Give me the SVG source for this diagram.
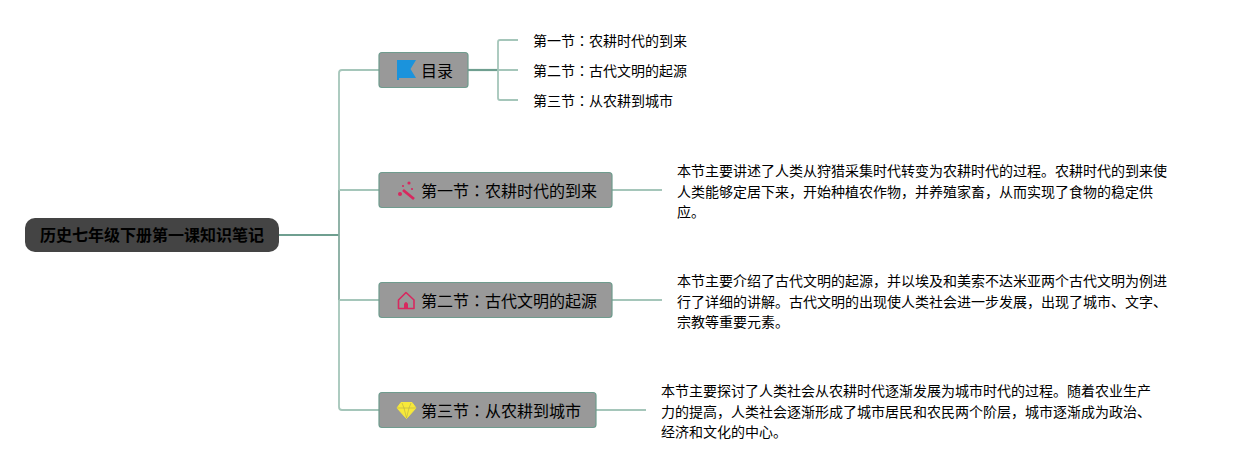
<svg xmlns="http://www.w3.org/2000/svg" width="1237" height="470" viewBox="0 0 1237 470">
<style>
text{font-family:"Liberation Sans","Noto Sans CJK SC",sans-serif;fill:#000}
.root{font-size:16px;font-weight:bold}
.n{font-size:16px}
.s{font-size:14px}
.k{font-family:"Liberation Sans","Noto Sans CJK TC",sans-serif}
.box{fill:#999;stroke:#6f9c8e;stroke-width:1.2}
.c{fill:none;stroke:#a5c6ba;stroke-width:1.8}
.d{fill:none;stroke:#6f9f90;stroke-width:2.2}
.t{fill:none;stroke:#85ab9f;stroke-width:1.8}
.r{fill:#d8285f}
</style>
<rect width="1237" height="470" fill="#fff"/>
<g id="connectors">
<path class="d" d="M279 235H339"/>
<path class="c" d="M379 70H342Q339 70 339 73V190"/>
<path class="t" d="M339 190V300"/>
<path class="c" d="M339 190H379M339 300H379"/>
<path class="c" d="M339 300V407Q339 410 342 410H379"/>
<path class="d" d="M468 70H498"/>
<path class="c" d="M518 40H500Q498 40 498 42V98Q498 100 500 100H518M498 70H518"/>
<path class="c" d="M612 190H662M612 300H662M596 410H646"/>
</g>
<g id="root"><rect x="25" y="218" width="254" height="34" rx="10" fill="#444"/><text class="root" x="40" y="241">历史七年级下册第一课知识笔记</text></g>
<g id="mulu"><rect class="box" x="379" y="52.500" width="89" height="35" rx="3"/>
<path d="M397 60H416L410.500 69L416 78H399V80H397Z" fill="#1b93dc"/>
<text class="n" x="421" y="77">目录</text></g>
<g id="toc1"><text class="s" x="533" y="46">第一节<tspan class="k">：</tspan>农耕时代的到来</text></g>
<g id="toc2"><text class="s" x="533" y="76">第二节<tspan class="k">：</tspan>古代文明的起源</text></g>
<g id="toc3"><text class="s" x="533" y="106">第三节<tspan class="k">：</tspan>从农耕到城市</text></g>
<g id="sec1"><rect class="box" x="379" y="172.500" width="233" height="35" rx="3"/>
<path d="M403 190L414 199" stroke="#d8285f" stroke-width="2.800" fill="none"/>
<circle class="r" cx="400" cy="194" r="2"/><circle class="r" cx="403" cy="186" r="1.100"/><circle class="r" cx="409" cy="183" r="1.600"/><circle class="r" cx="412" cy="189" r="1.100"/>
<text class="n" x="421" y="197">第一节<tspan class="k">：</tspan>农耕时代的到来</text></g>
<g id="sec1t"><text class="s" x="677" y="176">本节主要讲述了人类从狩猎采集时代转变为农耕时代的过程。农耕时代的到来使</text><text class="s" x="677" y="197">人类能够定居下来，开始种植农作物，并养殖家畜，从而实现了食物的稳定供</text><text class="s" x="677" y="217">应。</text></g>
<g id="sec2"><rect class="box" x="379" y="282.500" width="233" height="35" rx="3"/>
<path d="M398.500 300L406 292.500L414 300V308.500H398.500Z" fill="none" stroke="#d8285f" stroke-width="1.600" stroke-linejoin="round"/>
<path d="M404 308V304Q406 300 408 304V308Z" class="r"/>
<text class="n" x="421" y="307">第二节<tspan class="k">：</tspan>古代文明的起源</text></g>
<g id="sec2t"><text class="s" x="677" y="286">本节主要介绍了古代文明的起源，并以埃及和美索不达米亚两个古代文明为例进</text><text class="s" x="677" y="307">行了详细的讲解。古代文明的出现使人类社会进一步发展，出现了城市、文字、</text><text class="s" x="677" y="327">宗教等重要元素。</text></g>
<g id="sec3"><rect class="box" x="379" y="392.500" width="217" height="35" rx="3"/>
<path d="M401 402.500H412L416 408L406.500 418.500L397 408Z" fill="#f7e93a" stroke="#f7e93a"/>
<path d="M397 408H416M402 403L404 408L406.500 418M411 403L409 408L406.500 418" stroke="#a8a24a" stroke-width=".5" fill="none"/>
<text class="n" x="421" y="417">第三节<tspan class="k">：</tspan>从农耕到城市</text></g>
<g id="sec3t"><text class="s" x="661" y="396">本节主要探讨了人类社会从农耕时代逐渐发展为城市时代的过程。随着农业生产</text><text class="s" x="661" y="417">力的提高，人类社会逐渐形成了城市居民和农民两个阶层，城市逐渐成为政治、</text><text class="s" x="661" y="437">经济和文化的中心。</text></g>
</svg>
